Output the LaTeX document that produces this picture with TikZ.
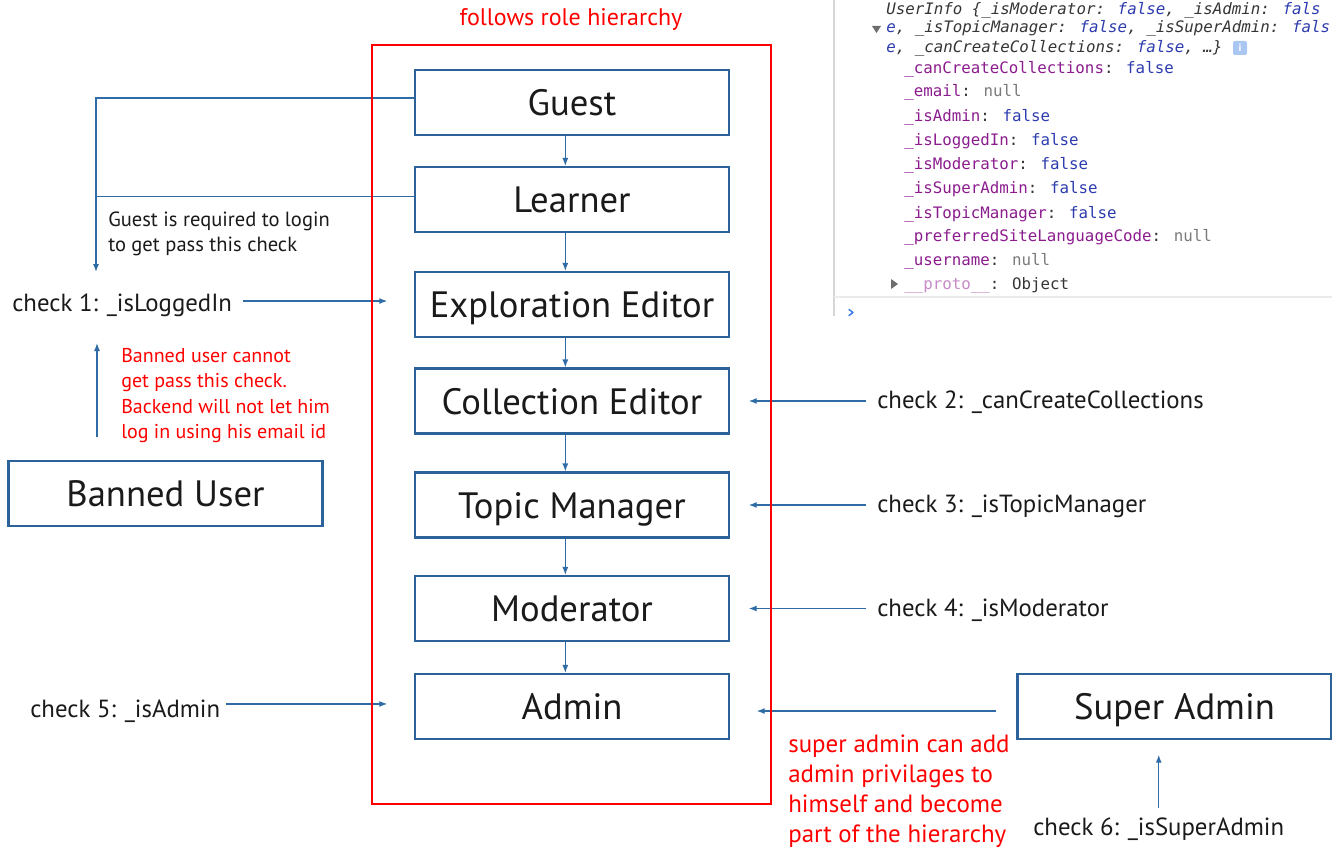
\documentclass[tikz,border=0pt]{standalone}
\usepackage{fontspec}
\setmainfont{PT Sans}
\newfontfamily\consolefont{DejaVu Sans Mono}
\usetikzlibrary{arrows.meta,calc}

\definecolor{boxblue}{HTML}{2B6299}
\definecolor{linkblue}{HTML}{2F6CA6}
\definecolor{hierred}{HTML}{FF0000}
\definecolor{inktext}{HTML}{1A1A1A}
\definecolor{keypurple}{HTML}{8B1C8E}
\definecolor{valblue}{HTML}{2C3BAE}
\definecolor{nullgray}{HTML}{7A7A7A}
\definecolor{previewgray}{HTML}{353535}
\definecolor{protopink}{HTML}{C68AC6}
\definecolor{consoleline}{HTML}{D6D6D6}
\definecolor{consolesep}{HTML}{EBEBEB}
\definecolor{infoblue}{HTML}{A9C7F1}
\definecolor{promptblue}{HTML}{3A7BE8}
\definecolor{twistgray}{HTML}{6E6E6E}

\tikzset{
  rolebox/.style={draw=boxblue, line width=1.6pt, minimum width=235.5pt,
    minimum height=48.75pt, inner sep=0pt, text=inktext,
    font=\fontsize{27.5}{30}\selectfont, text height=19.5pt, text depth=0pt},
  conn/.style={draw=linkblue, line width=0.9pt, -{Latex[length=6pt,width=4.5pt]}},
  plainlink/.style={draw=linkblue, line width=0.8pt},
  checktxt/.style={anchor=base west, inner sep=0pt, text=inktext,
    font=\fontsize{18.6}{21}\selectfont},
  guestnote/.style={anchor=north west, inner sep=0pt, text=inktext, align=left,
    font=\fontsize{15.4}{18.75}\selectfont},
  rednote/.style={anchor=north west, inner sep=0pt, text=hierred, align=left},
  con/.style={anchor=base west, inner sep=0pt, text=previewgray,
    font=\consolefont\fontsize{11.85}{14}\selectfont},
  conhead/.style={con, font=\consolefont\itshape\fontsize{11.85}{14}\selectfont},
}

\begin{document}
\begin{tikzpicture}[x=0.75pt, y=-0.75pt]
\useasboundingbox (0,0) rectangle (1332,849);

% ---- developer console panel ----
\draw[consoleline, line width=1.1pt] (834,0) -- (834,316);
\draw[consolesep, line width=0.8pt] (834,297) -- (1332,297);
\begin{scope}
\clip (835,0) rectangle (1332,297);
\fill[twistgray] (872,26) -- (881,26) -- (876.5,33) -- cycle;
\node[conhead] (hdr1) at (886,15)
  {UserInfo \{\_isModerator: \textcolor{valblue}{false}, \_isAdmin: \textcolor{valblue}{fals}};
\node[conhead] (hdr2) at (886,33)
  {\textcolor{valblue}{e}, \_isTopicManager: \textcolor{valblue}{false}, \_isSuperAdmin: \textcolor{valblue}{fals}};
\node[conhead] (hdr3) at (886,53)
  {\textcolor{valblue}{e}, \_canCreateCollections: \textcolor{valblue}{false}, …\}};
\node[fill=infoblue, rounded corners=1.5pt, minimum size=10.5pt, inner sep=0pt,
  text=white, font=\fontsize{8}{8}\selectfont\bfseries] (info) at (1240,48) {i};
\node[con] (p1) at (904,74) {\textcolor{keypurple}{\_canCreateCollections}: \textcolor{valblue}{false}};
\node[con] (p2) at (904,97) {\textcolor{keypurple}{\_email}: \textcolor{nullgray}{null}};
\node[con] (p3) at (904,122) {\textcolor{keypurple}{\_isAdmin}: \textcolor{valblue}{false}};
\node[con] (p4) at (904,146) {\textcolor{keypurple}{\_isLoggedIn}: \textcolor{valblue}{false}};
\node[con] (p5) at (904,169) {\textcolor{keypurple}{\_isModerator}: \textcolor{valblue}{false}};
\node[con] (p6) at (904,193) {\textcolor{keypurple}{\_isSuperAdmin}: \textcolor{valblue}{false}};
\node[con] (p7) at (904,218) {\textcolor{keypurple}{\_isTopicManager}: \textcolor{valblue}{false}};
\node[con] (p8) at (904,241) {\textcolor{keypurple}{\_preferredSiteLanguageCode}: \textcolor{nullgray}{null}};
\node[con] (p9) at (904,265) {\textcolor{keypurple}{\_username}: \textcolor{nullgray}{null}};
\fill[twistgray] (891,279) -- (898,284) -- (891,289) -- cycle;
\node[con] (p10) at (904,289) {\textcolor{protopink}{\_\_proto\_\_}: Object};
\end{scope}
\draw[promptblue, line width=1.1pt, line cap=round, line join=round]
  (849,309.5) -- (853,312.5) -- (849,315.5);

% ---- role hierarchy ----
\node[rolebox] (guest)   at (572,102.5) {Guest};
\node[rolebox] (learner) at (572,199.5) {Learner};
\node[rolebox] (expl)    at (572,304.5) {Exploration Editor};
\node[rolebox] (coll)    at (572,401)   {Collection Editor};
\node[rolebox] (topic)   at (572,505)   {Topic Manager};
\node[rolebox] (moder)   at (572,608.5) {Moderator};
\node[rolebox] (admin)   at (572,706.5) {Admin};

\foreach \a/\b in {guest/learner, learner/expl, expl/coll, coll/topic, topic/moder, moder/admin}
  \draw[conn] ([xshift=-5pt]\a.south) -- ([xshift=-5pt]\b.north);

% ---- outside roles ----
\node[rolebox] (banned) at (165.5,493.5) {Banned User};
\node[rolebox] (super)  at (1174.5,706.5) {Super Admin};

% ---- left side: login check ----
\coordinate (busTip) at (96,272);
\draw[conn] ([yshift=3.4pt]guest.west) -| (busTip);
\draw[plainlink] ([yshift=2.6pt]learner.west) -- ++(-319,0);
\node[guestnote] (gnote) at (108,212) {Guest is required to login\\to get pass this check};

\node[checktxt] (chk1) at (12,311) {check 1: \_isLoggedIn};
\draw[conn, shorten <=8pt, shorten >=20pt] ([yshift=2.6pt]chk1.east |- expl.west) -- ([yshift=2.6pt]expl.west);

\coordinate (banTail) at (97,437);
\coordinate (banTip) at (97,343);
\draw[conn] (banTail) -- (banTip);
\node[rednote, font=\fontsize{15}{19.1}\selectfont] (bnote) at (121,348)
  {Banned user cannot\\get pass this check.\\Backend will not let him\\log in using his email id};

\node[checktxt] (chk5) at (30,717) {check 5: \_isAdmin};
\draw[conn, shorten <=4pt, shorten >=20pt] ([yshift=1.9pt]chk5.east |- admin.west) -- ([yshift=1.9pt]admin.west);

% ---- right side: capability checks ----
\node[checktxt] (chk2) at (877,408) {check 2: \_canCreateCollections};
\node[checktxt] (chk3) at (877,512) {check 3: \_isTopicManager};
\node[checktxt] (chk4) at (877,616) {check 4: \_isModerator};
\draw[conn, shorten <=8pt, shorten >=14pt] (chk2.west |- coll.east) -- (coll.east);
\draw[conn, shorten <=8pt, shorten >=14pt] (chk3.west |- topic.east) -- (topic.east);
\draw[conn, shorten <=8pt, shorten >=14pt] (chk4.west |- moder.east) -- (moder.east);

\draw[conn, shorten <=15.5pt, shorten >=20pt] ([yshift=-3.4pt]super.west) -- ([yshift=-3.4pt]admin.east);
\node[rednote, font=\fontsize{18.7}{22.5}\selectfont] (snote) at (788,735)
  {super admin can add\\admin privilages to\\himself and become\\part of the hierarchy};

\node[checktxt] (chk6) at (1033,835) {check 6: \_isSuperAdmin};
\draw[conn, shorten <=7pt, shorten >=11pt] (chk6.north) -- (chk6.north |- super.south);

% ---- hierarchy frame ----
\node[draw=hierred, line width=2pt, minimum width=299.25pt, minimum height=569.25pt,
  inner sep=0pt] (frame) at (571.5,424.5) {};
\node[anchor=base, inner sep=0pt, text=hierred, font=\fontsize{18}{21}\selectfont]
  (ftitle) at (571,26) {follows role hierarchy};
\end{tikzpicture}
\end{document}
